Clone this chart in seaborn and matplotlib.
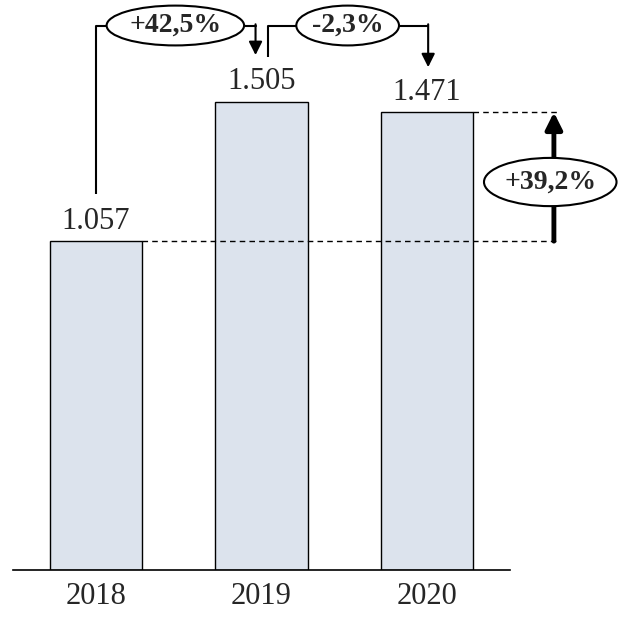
import seaborn as sns
import pandas as pd
import matplotlib.pyplot as plt
from matplotlib.patches import Ellipse

years = ['2018', '2019', '2020']
values = [1057, 1505, 1471]
value_labels = ['1.057', '1.505', '1.471']
change_labels = ['+42,5%', '-2,3%']
total_label = '+39,2%'

df = pd.DataFrame({'Year': years, 'Value': values})

sns.set_style('white')
plt.rcParams['font.family'] = ['Liberation Serif', 'DejaVu Serif']

fig = plt.figure(figsize=(6.21, 6.33), dpi=100)
ax = fig.add_axes([13 / 621, 63 / 633, 497 / 621, 570 / 633])

sns.barplot(data=df, x='Year', y='Value', color='#dce3ed', saturation=1,
            edgecolor='black', linewidth=1, width=0.556, ax=ax)
ax.set_xlim(-0.5, 2.5)
ax.set_ylim(0, 1832)
ax.set_xlabel('')
ax.set_ylabel('')
ax.set_yticks([])
ax.tick_params(axis='x', length=0, pad=9, labelsize=22)
for s in ['top', 'left', 'right']:
    ax.spines[s].set_visible(False)
ax.spines['bottom'].set_linewidth(1.2)
ax.spines['bottom'].set_color('black')

# value labels above bars
for i, (v, lab) in enumerate(zip(values, value_labels)):
    ax.annotate(lab, (i, v), xytext=(0, 4), textcoords='offset points',
                ha='center', va='bottom', fontsize=22)

# bracket arrows between years
top_y = 1750
ell_h = 128
lw = 1.5
arrow_kw = dict(arrowstyle='-|>', mutation_scale=20, lw=lw, color='black',
                shrinkA=0, shrinkB=0)

def bracket(x0, y0, x1, y1, cx, w, label):
    ax.plot([x0, x0, cx - w / 2], [y0, top_y, top_y], color='black', lw=lw,
            clip_on=False, solid_capstyle='butt')
    ax.plot([cx + w / 2, x1], [top_y, top_y], color='black', lw=lw, clip_on=False)
    ax.annotate('', xy=(x1, y1), xytext=(x1, top_y + 4), arrowprops=arrow_kw,
                annotation_clip=False)
    ax.add_patch(Ellipse((cx, top_y), w, ell_h, facecolor='white',
                         edgecolor='black', lw=lw, clip_on=False, zorder=3))
    ax.text(cx, top_y, label, ha='center', va='center', fontsize=20,
            fontweight='bold', zorder=4)

bracket(0.0, values[0] + 150, 1 - 0.036, values[1] + 150, 0.48, 0.83, change_labels[0])
bracket(1 + 0.04, values[1] + 143, 2 + 0.006, values[2] + 145, 1.52, 0.62, change_labels[1])

# total change on the right
dash = dict(color='black', lw=1, ls=(0, (4, 3)), clip_on=False)
ax.plot([2 + 0.278, 2.80], [values[2], values[2]], **dash)
ax.plot([0 + 0.278, 2.80], [values[0], values[0]], **dash)
ax.annotate('', xy=(2.765, values[2]), xytext=(2.765, values[0]),
            arrowprops=dict(arrowstyle='-|>', mutation_scale=25, lw=3.5,
                            color='black', shrinkA=0, shrinkB=0),
            annotation_clip=False)
mid = values[0] + 190
ax.add_patch(Ellipse((2.743, mid), 0.80, 155, facecolor='white',
                     edgecolor='black', lw=lw, clip_on=False, zorder=3))
ax.text(2.743, mid, total_label, ha='center', va='center', fontsize=20,
        fontweight='bold', zorder=4)

fig.savefig('out.png', dpi=100)
